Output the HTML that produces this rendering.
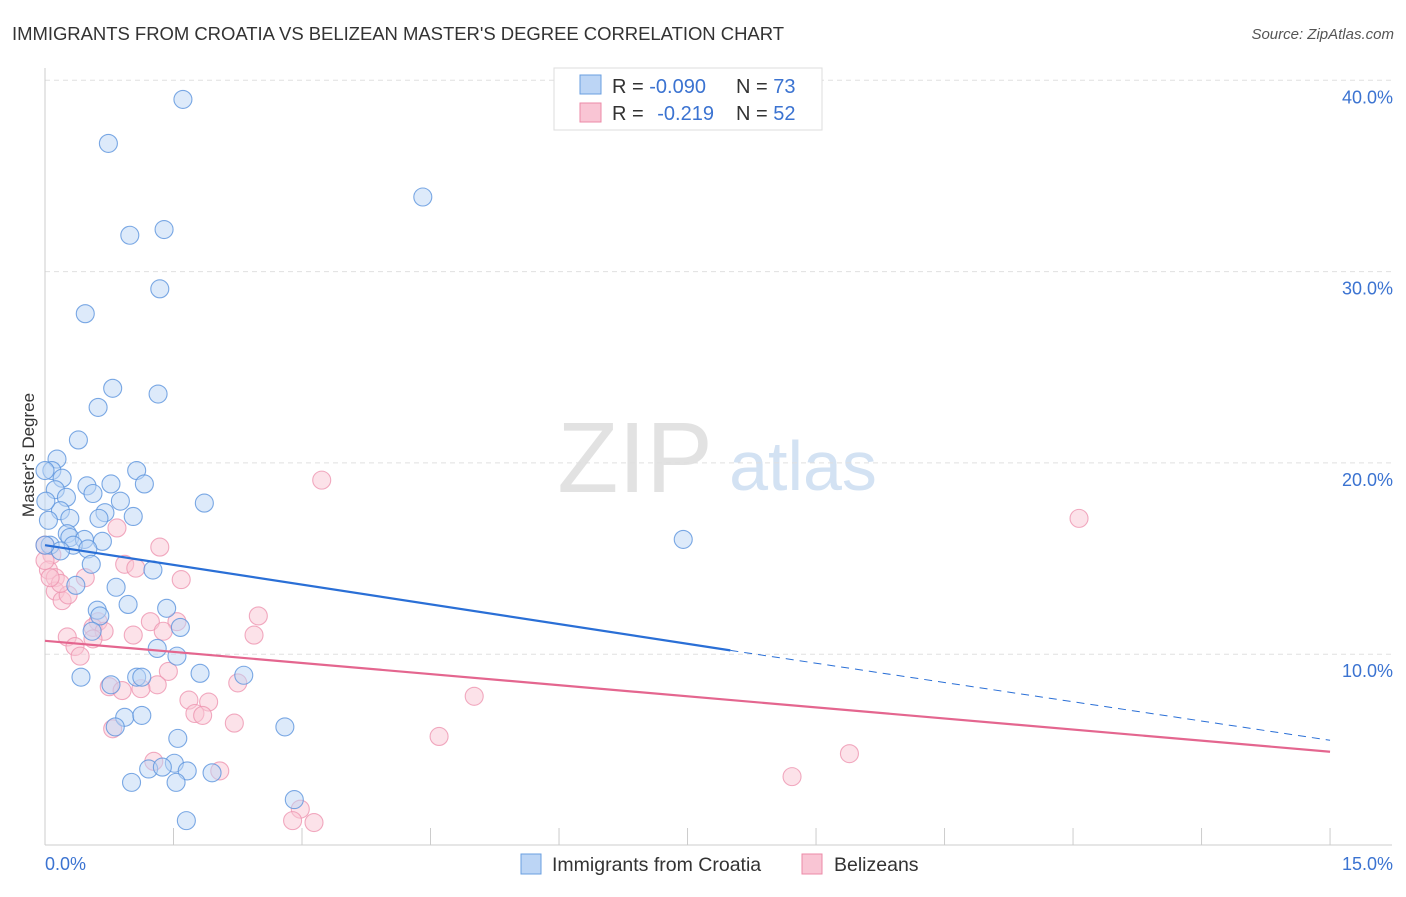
<!DOCTYPE html>
<html><head><meta charset="utf-8"><style>
body{margin:0;background:#fff;font-family:"Liberation Sans",sans-serif}
svg text{font-family:"Liberation Sans",sans-serif}
</style></head><body>
<svg id="c" width="1406" height="892">
<text x="12" y="40" font-size="18.5" fill="#333" textLength="772">IMMIGRANTS FROM CROATIA VS BELIZEAN MASTER'S DEGREE CORRELATION CHART</text>
<text x="1394" y="39" font-size="15" fill="#555" text-anchor="end" font-style="italic">Source: ZipAtlas.com</text>
<text x="34" y="455" font-size="17" fill="#333" text-anchor="middle" transform="rotate(-90 34 455)">Master's Degree</text>
<g><text x="635" y="492" font-size="100" fill="#e2e2e2" text-anchor="middle" font-family="Liberation Serif">ZIP</text><text x="803" y="490" font-size="70" fill="#d3e2f3" text-anchor="middle">atlas</text></g>
<g id="grid"></g><g id="pts"></g><g id="lines"></g>
<g>
<rect x="554" y="68" width="268" height="62" fill="#fff" stroke="#ddd"/>
<rect x="580" y="75" width="21" height="19" fill="#bcd5f5" stroke="#6a9fe0"/>
<rect x="580" y="103" width="21" height="19" fill="#f9c5d4" stroke="#ec8aa7"/>
<text x="612" y="93" font-size="20" fill="#333">R = <tspan fill="#3b73d1">-0.090</tspan></text>
<text x="736" y="93" font-size="20" fill="#333">N = <tspan fill="#3b73d1">73</tspan></text>
<text x="612" y="120" font-size="20" fill="#333">R = <tspan fill="#3b73d1" dx="8">-0.219</tspan></text>
<text x="736" y="120" font-size="20" fill="#333">N = <tspan fill="#3b73d1">52</tspan></text>
</g>
<g>
<rect x="521" y="854" width="20" height="20" fill="#bcd5f5" stroke="#6a9fe0"/>
<text x="552" y="871" font-size="19.5" fill="#333">Immigrants from Croatia</text>
<rect x="802" y="854" width="20" height="20" fill="#f9c5d4" stroke="#ec8aa7"/>
<text x="834" y="871" font-size="19.5" fill="#333">Belizeans</text>
</g>
</svg>
<script>
const xTicks=[0,1.5,3,4.5,6,7.5,9,10.5,12,13.5,15];
const yTicks=[10,20,30,40];
const yTickLabels=["10.0%","20.0%","30.0%","40.0%"];
const croX=[1.61,0.74,4.41,0.99,1.39,1.34,0.47,0.79,1.32,0.62,0.39,0.14,1.07,0.08,0.2,0.12,0.77,0.49,1.16,0.56,0.25,0.88,1.86,0.18,0.7,1.03,0.63,0.29,0.04,7.45,0.26,0.29,0.46,0.67,0.06,0.33,0.5,0.18,0.54,1.26,0.36,0.83,0.97,0.61,0.64,1.42,1.58,0.55,1.31,1.54,0.42,1.81,2.32,0.77,1.07,1.13,0.93,1.13,0.82,2.8,1.55,1.51,1.21,1.37,1.66,1.95,1.01,1.53,2.91,1.65,0,0.01,0];
const croY=[39.0,36.7,33.9,31.9,32.2,29.1,27.8,23.9,23.6,22.9,21.2,20.2,19.6,19.6,19.2,18.6,18.9,18.8,18.9,18.4,18.2,18.0,17.9,17.5,17.4,17.2,17.1,17.1,17.0,16.0,16.3,16.1,16.0,15.9,15.7,15.7,15.5,15.4,14.7,14.4,13.6,13.5,12.6,12.3,12.0,12.4,11.4,11.2,10.3,9.9,8.8,9.0,8.9,8.4,8.8,8.8,6.7,6.8,6.2,6.2,5.6,4.3,4.0,4.1,3.9,3.8,3.3,3.3,2.4,1.3,15.7,18.0,19.6];
const belX=[3.23,12.07,0.84,1.34,0.08,0.04,0.12,0.93,1.06,0.47,1.59,0.12,0.2,0.27,2.49,1.23,1.54,0.62,0.56,0.69,1.03,1.38,0.26,0.56,2.44,0.35,0.41,1.44,2.25,0.75,1.31,0.9,1.12,1.68,1.91,5.01,1.75,1.84,2.21,0.79,4.6,9.39,1.27,2.04,8.72,2.98,2.89,3.14,0,0,0.18,0.06];
const belY=[19.1,17.1,16.6,15.6,15.2,14.4,14.0,14.7,14.5,14.0,13.9,13.3,12.8,13.1,12.0,11.7,11.7,11.7,11.4,11.2,11.0,11.2,10.9,10.8,11.0,10.4,9.9,9.1,8.5,8.3,8.4,8.1,8.2,7.6,7.5,7.8,6.9,6.8,6.4,6.1,5.7,4.8,4.4,3.9,3.6,1.9,1.3,1.2,14.9,15.7,13.7,14.0];
const croTrend=[[0,15.7],[8.0,10.2],[15,5.5]];
const belTrend=[[0,10.7],[15,4.9]];
const X=v=>45+v*85.67, Y=v=>845.5-v*19.13;
const NS="http://www.w3.org/2000/svg";
function mk(t,a,p){const e=document.createElementNS(NS,t);for(const k in a)e.setAttribute(k,a[k]);p.appendChild(e);return e;}
const grid=document.getElementById('grid'),pts=document.getElementById('pts'),lines=document.getElementById('lines');
yTicks.forEach((v,i)=>{
 const l=mk('line',{x1:45,x2:1392,y1:Y(v),y2:Y(v),stroke:'#e0e0e0','stroke-dasharray':'5,4'},grid);
 
 
 const t=mk('text',{x:1393,y:Y(v)+23,'font-size':18,fill:'#3b73d1','text-anchor':'end'},grid);t.textContent=yTickLabels[i];
 
 
});
const ax=mk('line',{x1:45,x2:1392,y1:845,y2:845,stroke:'#ccc'},grid);


const ay=mk('line',{x1:45,x2:45,y1:68,y2:845,stroke:'#ccc'},grid);


xTicks.forEach(v=>{const l=mk('line',{x1:X(v),x2:X(v),y1:828,y2:845,stroke:'#ccc'},grid);
 
 });
[["0.0%",45,'start'],["15.0%",1393,'end']].forEach(a=>{const t=mk('text',{x:a[1],y:870,'font-size':18,fill:'#3b73d1','text-anchor':a[2]},grid);t.textContent=a[0];
 
 });
function dots(xs,ys,f,s,name){xs.forEach((x,i)=>{const c=mk('circle',{cx:X(x),cy:Y(ys[i]),r:9,fill:f,'fill-opacity':0.5,stroke:s,'stroke-opacity':0.8,'stroke-width':1.1},pts);
 
 });}
dots(belX,belY,'#f9c5d4','#ee95b0','belizean-point');
dots(croX,croY,'#bcd5f5','#5b93dd','croatia-point');
const b1=mk('line',{x1:X(croTrend[0][0]),y1:Y(croTrend[0][1]),x2:X(croTrend[1][0]),y2:Y(croTrend[1][1]),stroke:'#2a6fd6','stroke-width':2.2},lines);


const b2=mk('line',{x1:X(croTrend[1][0]),y1:Y(croTrend[1][1]),x2:X(croTrend[2][0]),y2:Y(croTrend[2][1]),stroke:'#2a6fd6','stroke-width':1,'stroke-dasharray':'8,6'},lines);


const p1=mk('line',{x1:X(belTrend[0][0]),y1:Y(belTrend[0][1]),x2:X(belTrend[1][0]),y2:Y(belTrend[1][1]),stroke:'#e4668f','stroke-width':2.2},lines);


</script>
</body></html>
